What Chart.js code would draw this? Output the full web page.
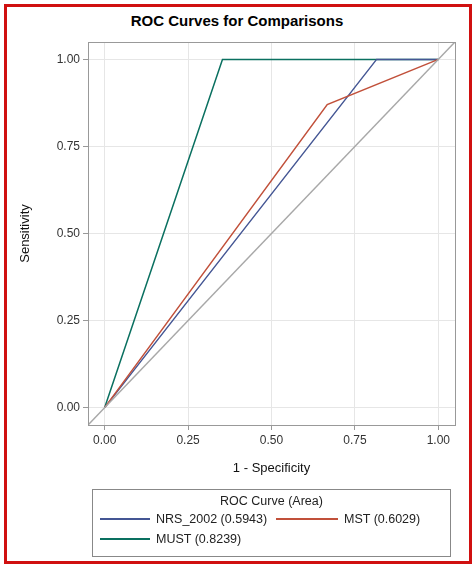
<!DOCTYPE html>
<html><head><meta charset="utf-8">
<script src="https://cdn.jsdelivr.net/npm/chart.js@4/dist/chart.umd.min.js"></script>
<style>
body{margin:0;background:#fff;font-family:"Liberation Sans",Arial,sans-serif;}
#frame{position:absolute;left:4px;top:4px;width:462px;height:554px;border:3px solid #d01010;}
#title{position:absolute;left:0;top:12px;width:474px;text-align:center;font-weight:bold;font-size:15px;color:#000;}
#c{position:absolute;left:0;top:0;}
#leg{position:absolute;left:92px;top:489px;width:357px;height:66px;border:1px solid #888;font-size:12.5px;color:#222;}
.it{position:absolute;display:flex;align-items:center;white-space:nowrap;}
.ln{display:inline-block;height:1.5px;margin-right:6px;}
</style></head><body>
<div id="frame"></div>
<div id="title">ROC Curves for Comparisons</div>
<canvas id="c" width="474" height="490"></canvas>
<div id="leg">
<div style="position:absolute;top:4px;width:100%;text-align:center;">ROC Curve (Area)</div>
<div class="it" style="left:7px;top:22px;"><span class="ln" style="width:50px;background:#445694"></span>NRS_2002 (0.5943)</div>
<div class="it" style="left:183px;top:22px;"><span class="ln" style="width:62px;background:#c1503a"></span>MST (0.6029)</div>
<div class="it" style="left:7px;top:42px;"><span class="ln" style="width:50px;background:#0a7060"></span>MUST (0.8239)</div>
</div>
<script>
const tickValues=[0,0.25,0.5,0.75,1];
const diagX=[-0.05,1.05], diagY=[-0.05,1.05];
const nrsX=[0,0.815,1], nrsY=[0,1,1];
const mstX=[0,0.667,1], mstY=[0,0.87,1];
const mustX=[0,0.353,1], mustY=[0,1,1];
const pts=(xs,ys)=>xs.map((x,i)=>({x,y:ys[i]}));
const ds=(xs,ys,c)=>({data:pts(xs,ys),borderColor:c,borderWidth:1.5,pointRadius:0,showLine:true,fill:false,tension:0});
const frame={id:'frame',afterDraw(ch){const a=ch.chartArea,x=ch.ctx;x.save();x.strokeStyle='#999';x.lineWidth=1;x.strokeRect(a.left+.5,a.top+.5,a.right-a.left,a.bottom-a.top);x.restore();}};
const tickCb=v=>v.toFixed(2);
new Chart(document.getElementById('c'),{type:'scatter',
data:{datasets:[ds(diagX,diagY,'#a8a8a8'),ds(mstX,mstY,'#c1503a'),ds(nrsX,nrsY,'#445694'),ds(mustX,mustY,'#0a7060')]},
options:{responsive:false,animation:false,layout:{padding:{top:42,right:19,left:14,bottom:10}},
plugins:{legend:{display:false},tooltip:{enabled:false}},
scales:{
x:{min:-0.05,max:1.05,afterBuildTicks:s=>{s.ticks=tickValues.map(v=>({value:v}))},afterFit:s=>{s.height=55},
ticks:{callback:tickCb,color:'#333',font:{size:12},maxRotation:0},grid:{color:'#e6e6e6',drawTicks:true,tickColor:'#999',tickLength:5},border:{color:'#999'},
title:{display:true,text:'1 - Specificity',color:'#111',font:{size:13}}},
y:{min:-0.05,max:1.05,afterBuildTicks:s=>{s.ticks=tickValues.map(v=>({value:v}))},afterFit:s=>{s.width=74},
ticks:{callback:tickCb,color:'#333',font:{size:12}},grid:{color:'#e6e6e6',tickColor:'#999',tickLength:5},border:{color:'#999'},
title:{display:true,text:'Sensitivity',color:'#111',font:{size:13}}}}},
plugins:[frame]});
</script></body></html>
